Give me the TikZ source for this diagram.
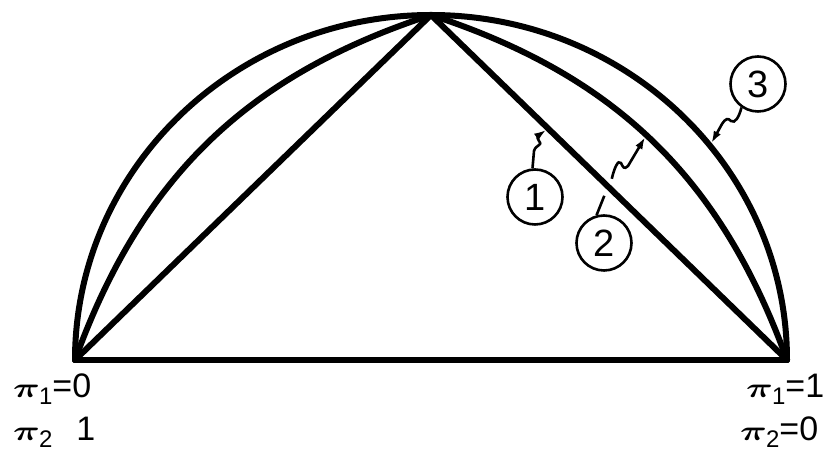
\documentclass[tikz,border=0pt]{standalone}
\usepackage{bm}
\usepackage{fontspec}
\setmainfont{Liberation Sans}
\usetikzlibrary{arrows.meta,calc}
\newcommand{\pisub}[1]{\scalebox{1.5}[1.12]{$\bm{\pi}$}\kern-1pt\raisebox{-7pt}{\fontsize{24}{24}\selectfont #1}}
\begin{document}
\begin{tikzpicture}[x=1pt,y=1pt,
 heavy/.style={line width=6pt, line cap=round, line join=round},
 lead/.style={line width=2.6pt},
 tipped/.style={-{Latex[length=12pt,width=8pt]}},
 numc/.style={circle, draw, line width=2.6pt, minimum size=55pt, inner sep=0pt, font=\fontsize{38}{38}\selectfont},
 lbl/.style={anchor=base west, inner sep=0pt, font=\fontsize{34}{34}\selectfont}]
\useasboundingbox (0,0) rectangle (839,457);
\coordinate (L) at (75,97);
\coordinate (R) at (787,97);
\coordinate (A) at (431,442);
\coordinate (O) at (431,97);
\draw[heavy] (L) -- (R);
\draw[heavy] (L) -- (A) -- (R);
\draw[heavy] (L) to[bend left=26] (A);
\draw[heavy] (A) to[bend left=26] coordinate[pos=0.48] (t2) (R);
\draw[heavy] (L) arc[start angle=180, end angle=0, x radius=356, y radius=345];
\coordinate (t1) at ($(A)!0.329!(R)$);
\coordinate (t3) at ($(O)+(38.4:356 and 345)$);
\coordinate (g) at ($(A)!0.498!(R)$);
\coordinate (gb) at ($(g)+(-4,-9)$);
\coordinate (ga) at ($(g)+(3.5,8)$);
\node[numc] (c1) at (535,260) {1};
\node[numc] (c2) at (604,214) {2};
\node[numc] (c3) at (758,373) {3};
\draw[lead,tipped,shorten >=2.5pt] (c1.95) -- (534,306) .. controls (536,313) and (543,311) .. (539,316) .. controls (536,320) and (539,322) .. (t1);
\draw[lead] (c2.105) -- (gb);
\draw[lead,tipped,shorten >=2.5pt] (ga) .. controls (614,288) and (618,298) .. (621,294) .. controls (623,290) and (624,287) .. (628,291) -- (t2);
\draw[lead,tipped,shorten >=3pt] (c3.235) .. controls (739,340) and (735,333) .. (731,336) .. controls (728,339) and (726,339) .. (722,333) -- (t3);
\node[lbl] (p1) at (13,59) {\pisub{1}=0};
\node[lbl] (p2) at (13,16) {\pisub{2}\hspace{24pt}1};
\node[lbl] (p3) at (746,59) {\pisub{1}=1};
\node[lbl] (p4) at (740,16) {\pisub{2}=0};
\end{tikzpicture}
\end{document}
